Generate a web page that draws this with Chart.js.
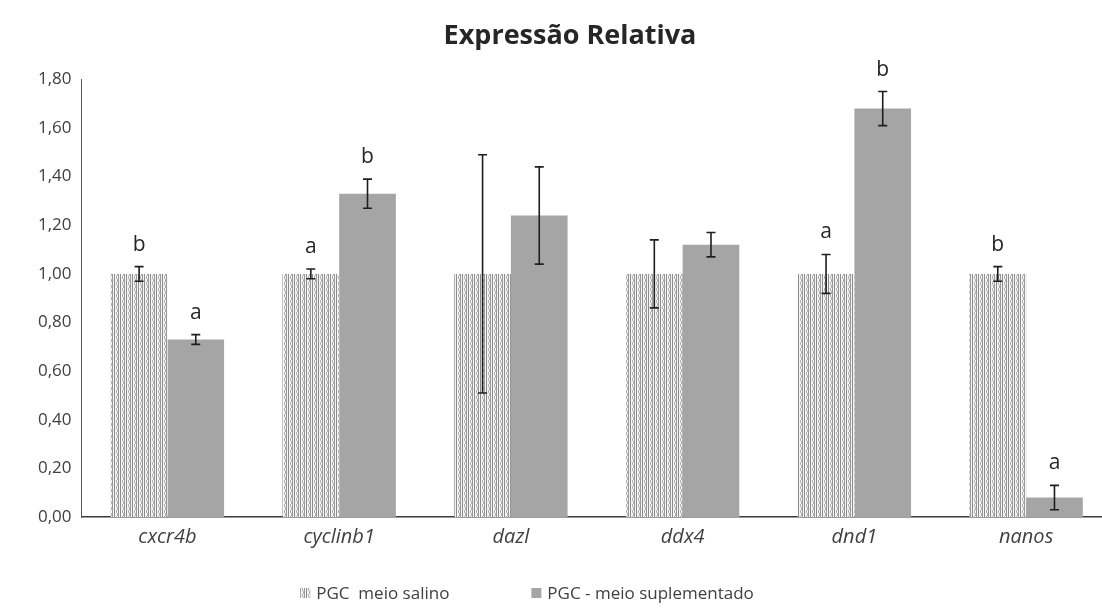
<!DOCTYPE html>
<html>
<head>
<meta charset="utf-8">
<script src="https://cdn.jsdelivr.net/npm/chart.js@4.4.1/dist/chart.umd.min.js"></script>
<style>
  html, body { margin: 0; padding: 0; background: #fff; overflow: hidden; }
  #wrap { width: 1112px; height: 608px; position: relative; }
</style>
</head>
<body>
<div id="wrap"><canvas id="c"></canvas></div>
<script>
// Genes on the category axis
const genes = ['cxcr4b', 'cyclinb1', 'dazl', 'ddx4', 'dnd1', 'nanos'];

// PGC in saline medium (control, normalised to 1)
const salino = [1.00, 1.00, 1.00, 1.00, 1.00, 1.00];
const salinoErr = [0.03, 0.02, 0.49, 0.14, 0.08, 0.03];
const salinoLetters = ['b', 'a', '', '', 'a', 'b'];

// PGC in supplemented medium
const suplementado = [0.73, 1.33, 1.24, 1.12, 1.68, 0.08];
const suplementadoErr = [0.02, 0.06, 0.20, 0.05, 0.07, 0.05];
const suplementadoLetters = ['a', 'b', '', '', 'b', 'a'];

// Value axis
const yMin = 0, yMax = 1.8, yStep = 0.2;

const FONT = 'Open Sans, Liberation Sans, sans-serif';

// Vertical hatched fill for the saline series
function stripePattern() {
  const p = document.createElement('canvas');
  p.width = 6; p.height = 6;
  const g = p.getContext('2d');
  g.fillStyle = '#f4f4f4';
  g.fillRect(0, 0, 6, 6);
  g.fillStyle = '#8c8c8c';
  g.fillRect(0, 0, 1, 6);
  g.fillStyle = '#b0b0b0';
  g.fillRect(2, 0, 1, 3);
  g.fillRect(3, 3, 1, 3);
  g.fillStyle = '#9a9a9a';
  g.fillRect(4, 0, 1, 6);
  return g.createPattern(p, 'repeat');
}
const ctx0 = document.getElementById('c').getContext('2d');
const hatch = stripePattern();

const errors = [salinoErr, suplementadoErr];
const letters = [salinoLetters, suplementadoLetters];

// Error bars and significance letters on top of each bar
const errorBarPlugin = {
  id: 'errorBars',
  afterDatasetsDraw(chart) {
    const { ctx, scales: { y } } = chart;
    ctx.save();
    chart.data.datasets.forEach((ds, di) => {
      const meta = chart.getDatasetMeta(di);
      meta.data.forEach((bar, i) => {
        const v = ds.data[i];
        const e = errors[di][i];
        const top = y.getPixelForValue(v + e);
        const bot = y.getPixelForValue(Math.max(v - e, 0));
        const x = bar.x;
        ctx.strokeStyle = '#1e1e1e';
        ctx.lineWidth = 1.6;
        ctx.beginPath();
        ctx.moveTo(x, top); ctx.lineTo(x, bot);
        ctx.moveTo(x - 4.5, top); ctx.lineTo(x + 4.5, top);
        ctx.moveTo(x - 4.5, bot); ctx.lineTo(x + 4.5, bot);
        ctx.stroke();
        const t = letters[di][i];
        if (t) {
          ctx.fillStyle = '#262626';
          ctx.font = '21px ' + FONT;
          ctx.textAlign = 'center';
          ctx.textBaseline = 'middle';
          ctx.fillText(t, x, top - 22);
        }
      });
    });
    ctx.restore();
  }
};

// Legend row under the axis
const legendPlugin = {
  id: 'legendRow',
  afterDraw(chart) {
    const { ctx } = chart;
    const ds = chart.data.datasets;
    ctx.save();
    ctx.font = '17px ' + FONT;
    ctx.textBaseline = 'middle';
    ctx.textAlign = 'left';
    const box = 10, gapBox = 6, gapItem = 82;
    let x = chart.width * 0.27;
    const yc = 593;
    ds.forEach((d) => {
      ctx.fillStyle = d.backgroundColor;
      ctx.fillRect(x, yc - box / 2, box, box);
      ctx.fillStyle = '#404040';
      ctx.fillText(d.label, x + box + gapBox, yc + 1);
      x += box + gapBox + ctx.measureText(d.label).width + gapItem;
    });
    ctx.restore();
  }
};

new Chart(ctx0, {
  type: 'bar',
  data: {
    labels: genes,
    datasets: [
      { label: 'PGC  meio salino', data: salino, backgroundColor: hatch },
      { label: 'PGC - meio suplementado', data: suplementado, backgroundColor: '#a5a5a5' }
    ]
  },
  options: {
    responsive: true,
    maintainAspectRatio: false,
    animation: false,
    layout: { padding: { left: 28, right: 0, top: 0, bottom: 51 } },
    datasets: { bar: { categoryPercentage: 0.66, barPercentage: 1.0 } },
    plugins: {
      legend: { display: false },
      tooltip: { enabled: false },
      title: {
        display: true,
        text: 'Expressão Relativa',
        color: '#262626',
        font: { family: FONT, size: 27, weight: 'bold' },
        padding: { top: 20, bottom: 27 }
      }
    },
    scales: {
      x: {
        grid: { display: false, drawTicks: false },
        border: { display: true, color: '#3a3a3a', width: 1.5 },
        ticks: {
          color: '#404040',
          padding: 8,
          font: { family: FONT, size: 20, style: 'italic' }
        }
      },
      y: {
        min: yMin, max: yMax,
        grid: { display: false, drawTicks: false },
        border: { display: true, color: '#595959', width: 1 },
        ticks: {
          stepSize: yStep,
          color: '#404040',
          padding: 10,
          font: { family: FONT, size: 17 },
          callback: v => v.toFixed(2).replace('.', ',')
        }
      }
    }
  },
  plugins: [errorBarPlugin, legendPlugin]
});
</script>
</body>
</html>
